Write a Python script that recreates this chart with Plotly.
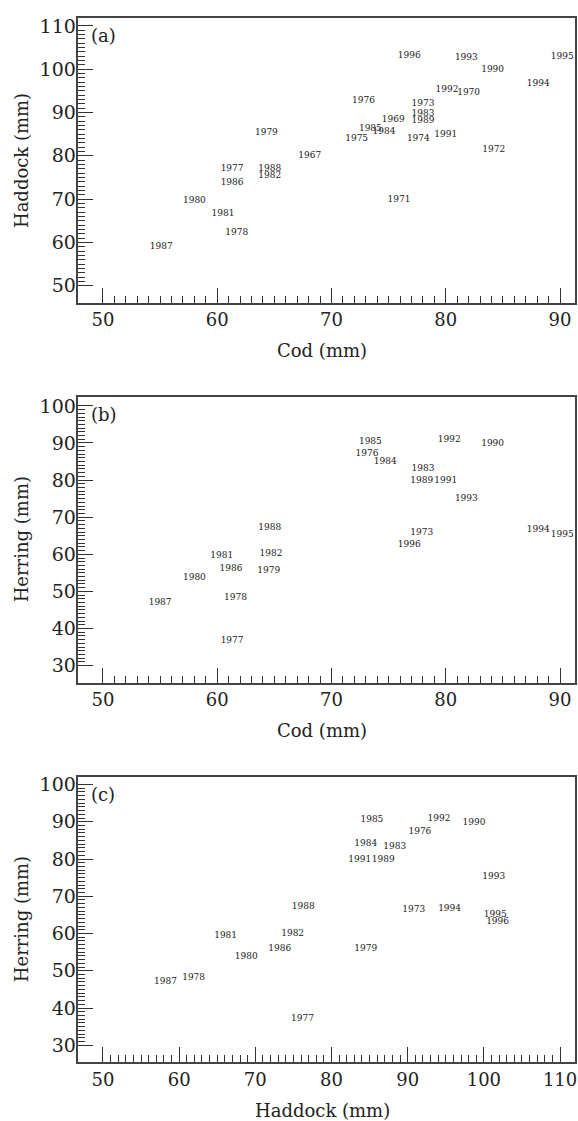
import plotly.graph_objects as go

# Panel (a): Cod vs Haddock
a_years = ["1967", "1969", "1970", "1971", "1972", "1973", "1974", "1975", "1976", "1977",
           "1978", "1979", "1980", "1981", "1982", "1983", "1984", "1985", "1986", "1987",
           "1988", "1989", "1990", "1991", "1992", "1993", "1994", "1995", "1996"]
a_cod = [68.1, 75.4, 82.0, 75.9, 84.2, 78.0, 77.6, 72.2, 72.8, 61.3,
         61.7, 64.3, 58.0, 60.5, 64.6, 78.0, 74.6, 73.4, 61.3, 55.1,
         64.6, 78.0, 84.1, 80.0, 80.1, 81.8, 88.1, 90.2, 76.8]
a_haddock = [80.0, 88.3, 94.5, 69.9, 81.4, 92.0, 83.9, 83.9, 92.8, 77.0,
             62.3, 85.3, 69.7, 66.5, 75.4, 89.8, 85.5, 86.2, 73.8, 59.0,
             77.1, 88.0, 99.9, 84.8, 95.2, 102.6, 96.7, 102.8, 103.1]

# Panel (b): Cod vs Herring
b_years = ["1973", "1976", "1977", "1978", "1979", "1980", "1981", "1982", "1983", "1984",
           "1985", "1986", "1987", "1988", "1989", "1990", "1991", "1992", "1993", "1994",
           "1995", "1996"]
b_cod = [77.9, 73.1, 61.3, 61.6, 64.5, 58.0, 60.4, 64.7, 78.0, 74.7,
         73.4, 61.2, 55.0, 64.6, 77.9, 84.1, 80.0, 80.3, 81.8, 88.1,
         90.2, 76.8]
b_herring = [65.9, 87.2, 36.6, 48.2, 55.7, 53.6, 59.5, 60.1, 83.1, 84.9,
             90.3, 56.0, 47.0, 67.1, 79.9, 89.8, 79.9, 90.9, 75.0, 66.7,
             65.2, 62.7]

# Panel (c): Haddock vs Herring
c_years = ["1973", "1976", "1977", "1978", "1979", "1980", "1981", "1982", "1983", "1984",
           "1985", "1986", "1987", "1988", "1989", "1990", "1991", "1992", "1993", "1994",
           "1995", "1996"]
c_haddock = [90.8, 91.6, 76.2, 61.9, 84.5, 68.8, 66.1, 74.9, 88.3, 84.5,
             85.3, 73.2, 58.2, 76.3, 86.8, 98.7, 83.7, 94.1, 101.3, 95.5,
             101.5, 101.8]
c_herring = [66.3, 87.3, 37.2, 48.0, 55.9, 53.7, 59.3, 59.9, 83.4, 84.1,
             90.5, 55.8, 47.0, 67.1, 79.7, 89.8, 79.7, 90.9, 75.1, 66.6,
             65.1, 63.1]

panel_tags = ["(a)", "(b)", "(c)"]
x_titles = ["Cod (mm)", "Cod (mm)", "Haddock (mm)"]
y_titles = ["Haddock (mm)", "Herring (mm)", "Herring (mm)"]

xticks = [[50, 60, 70, 80, 90], [50, 60, 70, 80, 90], [50, 60, 70, 80, 90, 100, 110]]
yticks = [[50, 60, 70, 80, 90, 100, 110], [30, 40, 50, 60, 70, 80, 90, 100],
          [30, 40, 50, 60, 70, 80, 90, 100]]

W, H = 578, 1121
FONT = "DejaVu Serif"
INK = "#222222"

def px_x(p):
    return p / W

def px_y(p):
    return 1 - p / H

left, right = 78.7, 577.0
panels = [  # (top, bottom) in pixels
    (14.0, 300.0),
    (394.3, 681.0),
    (775.7, 1062.0),
]
xranges = [[47.85, 91.31], [47.85, 91.31], [46.78, 111.96]]
yranges = [[46.02, 111.84], [25.43, 102.42], [25.45, 102.03]]

fig = go.Figure()
data = [(a_cod, a_haddock, a_years), (b_cod, b_herring, b_years), (c_haddock, c_herring, c_years)]
for i, (xs, ys, ts) in enumerate(data):
    sfx = "" if i == 0 else str(i + 1)
    fig.add_trace(go.Scatter(
        x=xs, y=ys, text=ts, mode="text", textposition="middle center",
        textfont=dict(family=FONT, size=9, color=INK),
        xaxis="x" + sfx, yaxis="y" + sfx, showlegend=False, hoverinfo="skip",
        cliponaxis=False,
    ))

layout = dict(
    width=W, height=H, margin=dict(l=0, r=0, t=0, b=0),
    paper_bgcolor="white", plot_bgcolor="white",
    font=dict(family=FONT, color=INK),
    annotations=[],
)

def minor_vals(ticks):
    return [v for v in range(min(ticks), max(ticks) + 1) if v not in ticks]

for i in range(3):
    sfx = "" if i == 0 else str(i + 1)
    top, bot = panels[i]
    axcommon = dict(
        showline=True, linecolor="#444444", linewidth=1.5, mirror=True,
        showgrid=False, zeroline=False, ticks="inside", ticklen=15, tickwidth=1.2,
        tickcolor="#333333", ticklabeloverflow="allow",
    )
    minor_common = dict(ticks="inside", ticklen=7, tickwidth=1, tickcolor="#333333",
                        showgrid=False, tickmode="array")
    layout["xaxis" + sfx] = dict(
        axcommon, domain=[px_x(left), px_x(right)], range=xranges[i],
        tickvals=xticks[i], anchor="y" + sfx,
        tickfont=dict(family=FONT, size=18, color=INK),
        minor=dict(minor_common, tickvals=minor_vals(xticks[i])),
    )
    layout["yaxis" + sfx] = dict(
        axcommon, domain=[px_y(bot), px_y(top)], range=yranges[i],
        tickvals=yticks[i], anchor="x" + sfx, ticklabelstandoff=-3,
        tickfont=dict(family=FONT, size=19, color=INK),
        minor=dict(minor_common, tickvals=minor_vals(yticks[i])),
    )
    layout["annotations"] += [
        dict(text=panel_tags[i], xref="paper", yref="paper", x=px_x(89), y=px_y(top + 18),
             xanchor="left", yanchor="middle", showarrow=False,
             font=dict(family=FONT, size=18, color=INK)),
        dict(text=x_titles[i], xref="paper", yref="paper", x=px_x(323.3), y=px_y(bot + 48),
             xanchor="center", yanchor="middle", showarrow=False,
             font=dict(family=FONT, size=18, color=INK)),
        dict(text=y_titles[i], xref="paper", yref="paper", x=px_x(21.7), y=px_y((top + bot) / 2),
             xanchor="center", yanchor="middle", showarrow=False, textangle=-90,
             font=dict(family=FONT, size=18, color=INK)),
    ]

fig.update_layout(**layout)
fig.write_html("out.html", config={"displayModeBar": False},
               post_script="document.body.style.margin='0';document.body.style.overflow='hidden';")
